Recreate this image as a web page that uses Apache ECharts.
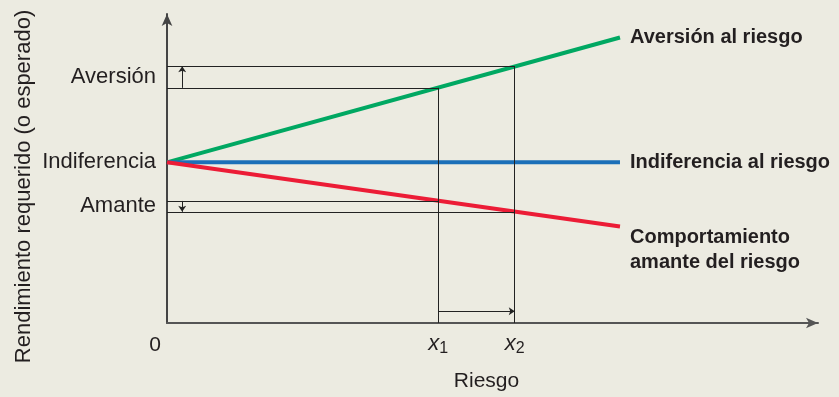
<!DOCTYPE html>
<html><head><meta charset="utf-8">
<script src="https://cdn.jsdelivr.net/npm/echarts@6/dist/echarts.min.js"></script>
<style>html,body{margin:0;padding:0;background:#ecebe1}#c{width:839px;height:397px}</style>
</head><body><div id="c"></div>
<script>
// Data (arbitrary units)
const riskX = [0, 8.35];                 // risk values where the lines start and end
const aversionY = [5.2, 9.24];           // risk-averse required return
const indifferenceY = [5.2, 5.2];        // risk-indifferent required return
const loverY = [5.2, 3.12];              // risk-seeking required return
const x1 = 5.0, x2 = 6.41;               // two risk levels
const aversionAtX = [7.61, 8.31];        // aversion return at x1, x2
const loverAtX = [3.95, 3.6];            // lover return at x1, x2
const yLabels = ['Aversión', 'Indiferencia', 'Amante'];
const yLabelValues = [7.96, 5.2, 3.78];

const font = 'Liberation Sans, Arial, sans-serif';
const txt = '#231f20';
const pair = (xs, ys) => xs.map((x, i) => [x, ys[i]]);

const chart = echarts.init(document.getElementById('c'));
chart.setOption({
  backgroundColor: '#ecebe1',
  animation: false,
  grid: { left: 167, right: 21, top: 14, bottom: 66, containLabel: false },
  xAxis: {
    type: 'value', min: 0, max: 12,
    name: 'Riesgo', nameLocation: 'middle', nameGap: 48,
    nameTextStyle: { fontFamily: font, fontSize: 21, color: txt, padding: [0, 12, 0, 0] },
    axisLine: { show: true, symbol: ['none', 'arrow'], symbolSize: [8, 12], lineStyle: { color: '#555', width: 2 } },
    axisTick: { show: false }, splitLine: { show: false },
    axisLabel: {
      customValues: [0, x1, x2], margin: 10,
      formatter: v => v === 0 ? '{z|0}' : (v === x1 ? '{x|x}{s|1}' : '{x|x}{s|2}'),
      rich: {
        z: { fontFamily: font, fontSize: 21, color: txt, padding: [0, 24, 0, 0], lineHeight: 24 },
        x: { fontFamily: font, fontSize: 22, fontStyle: 'italic', color: txt, lineHeight: 24, verticalAlign: 'top' },
        s: { fontFamily: font, fontSize: 16, color: txt, lineHeight: 24, verticalAlign: 'bottom', padding: [8, 0, 0, 0] }
      }
    }
  },
  yAxis: {
    type: 'value', min: 0, max: 10,
    name: 'Rendimiento requerido (o esperado)', nameLocation: 'middle', nameGap: 132, nameRotate: 90,
    nameTextStyle: { fontFamily: font, fontSize: 22, color: txt, padding: [0, 36, 0, 0] },
    axisLine: { show: true, symbol: ['none', 'arrow'], symbolSize: [8, 12], lineStyle: { color: '#444', width: 2 } },
    axisTick: { show: false }, splitLine: { show: false },
    axisLabel: { show: false }
  },
  series: [
    {
      type: 'scatter', symbolSize: 0, silent: true, z: 1,
      itemStyle: { opacity: 1 },
      data: yLabelValues.map((v, i) => ({ value: [0, v], name: yLabels[i] })),
      label: { show: true, position: 'left', distance: 11, formatter: '{b}', fontFamily: font, fontSize: 22, color: txt, opacity: 1 }
    },
    {
      type: 'lines', coordinateSystem: 'cartesian2d', z: 3, silent: true,
      lineStyle: { color: '#222', width: 1, opacity: 1 },
      data: [
        { coords: [[0, aversionAtX[1]], [x2, aversionAtX[1]]] },
        { coords: [[x2, aversionAtX[1]], [x2, 0]] },
        { coords: [[0, aversionAtX[0]], [x1, aversionAtX[0]]] },
        { coords: [[x1, aversionAtX[0]], [x1, 0]] },
        { coords: [[0, loverAtX[0]], [x1, loverAtX[0]]] },
        { coords: [[0, loverAtX[1]], [x2, loverAtX[1]]] }
      ]
    },
    {
      type: 'lines', coordinateSystem: 'cartesian2d', z: 3, silent: true,
      symbol: ['none', 'arrow'], symbolSize: 6,
      lineStyle: { color: '#222', width: 1, opacity: 1 },
      data: [
        { coords: [[0.28, aversionAtX[0]], [0.28, aversionAtX[1]]] },
        { coords: [[0.28, loverAtX[0]], [0.28, loverAtX[1]]] },
        { coords: [[x1, 0.38], [x2, 0.38]] }
      ]
    },
    {
      type: 'line', name: 'Aversión al riesgo', data: pair(riskX, aversionY), symbol: 'none', z: 2,
      lineStyle: { color: '#00a862', width: 4 },
      endLabel: { show: true, distance: 10, formatter: '{a}', fontFamily: font, fontSize: 20, fontWeight: 'bold', color: txt }
    },
    {
      type: 'line', name: 'Indiferencia al riesgo', data: pair(riskX, indifferenceY), symbol: 'none', z: 2,
      lineStyle: { color: '#1b6fb8', width: 4 },
      endLabel: { show: true, distance: 10, formatter: '{a}', fontFamily: font, fontSize: 20, fontWeight: 'bold', color: txt }
    },
    {
      type: 'line', name: 'Comportamiento\namante del riesgo', data: pair(riskX, loverY), symbol: 'none', z: 2,
      lineStyle: { color: '#ec1c36', width: 4 },
      endLabel: { show: true, distance: 10, offset: [0, 23], lineHeight: 25, formatter: '{a}', fontFamily: font, fontSize: 20, fontWeight: 'bold', color: txt }
    }
  ]
});
</script></body></html>
